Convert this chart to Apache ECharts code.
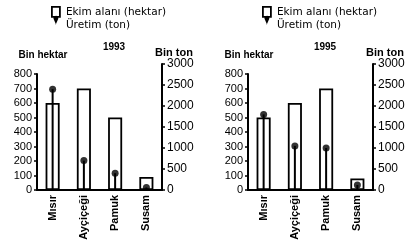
<!DOCTYPE html>
<html><head><meta charset="utf-8">
<script src="https://cdn.jsdelivr.net/npm/echarts@6/dist/echarts.min.js"></script>
<style>html,body{margin:0;padding:0;background:#fff}#c{width:413px;height:244px}</style>
</head><body><div id="c"></div>
<script>
var categories = ['Mısır', 'Ayçiçeği', 'Pamuk', 'Susam'];
var area1993 = [600, 700, 500, 90];
var prod1993 = [2400, 700, 400, 60];
var area1995 = [500, 600, 700, 80];
var prod1995 = [1800, 1050, 1000, 120];
var leftTicks = [0, 100, 200, 300, 400, 500, 600, 700, 800];
var rightTicks = [0, 500, 1000, 1500, 2000, 2500, 3000];
var years = ['1993', '1995'];
var nameArea = 'Ekim alanı (hektar)';
var nameProd = 'Üretim (ton)';

var F = 'Liberation Sans, Arial, sans-serif';
var FD = 'DejaVu Sans, sans-serif';
var chart = echarts.init(document.getElementById('c'), null, {renderer: 'canvas'});
var panels = [{left: 37, area: area1993, prod: prod1993, year: years[0]},
              {left: 248, area: area1995, prod: prod1995, year: years[1]}];
var grids = [], xAxes = [], yAxes = [], series = [], titles = [], legends = [];
panels.forEach(function (p, i) {
  grids.push({left: p.left, width: 125, top: 74, height: 116});
  grids.push({left: p.left, width: 125, top: 64, height: 126});
  xAxes.push({type: 'category', gridIndex: 2 * i, data: categories,
    axisLine: {lineStyle: {color: '#000', width: 2}}, axisTick: {show: false},
    axisLabel: {rotate: 90, color: '#000', fontFamily: F, fontSize: 11, fontWeight: 'bold', margin: 5}});
  xAxes.push({type: 'category', gridIndex: 2 * i + 1, data: categories, show: false});
  yAxes.push({type: 'value', gridIndex: 2 * i, min: 0, max: 800, interval: 100, position: 'left',
    name: 'Bin hektar', nameLocation: 'end', nameGap: 14,
    nameTextStyle: {color: '#000', fontFamily: F, fontSize: 10, fontWeight: 'bold', padding: [0, 0, 0, i === 0 ? 12 : 2]},
    splitLine: {show: false},
    axisLine: {show: true, lineStyle: {color: '#000', width: 2}},
    axisTick: {show: true, length: 3, lineStyle: {color: '#000', width: 1.5}},
    axisLabel: {color: '#000', fontFamily: F, fontSize: 11, margin: 5,
      formatter: function (v) { return leftTicks.indexOf(v) >= 0 ? String(v) : ''; }}});
  yAxes.push({type: 'value', gridIndex: 2 * i + 1, min: 0, max: 3000, interval: 500, position: 'right',
    name: 'Bin ton', nameLocation: 'end', nameGap: 5,
    nameTextStyle: {color: '#000', fontFamily: F, fontSize: 11, fontWeight: 'bold', padding: [0, 0, 0, 24]},
    splitLine: {show: false},
    axisLine: {show: true, lineStyle: {color: '#000', width: 2}},
    axisTick: {show: true, length: 3, lineStyle: {color: '#000', width: 1.5}},
    axisLabel: {color: '#000', fontFamily: F, fontSize: 12, margin: 5,
      formatter: function (v) { return rightTicks.indexOf(v) >= 0 ? String(v) : ''; }}});
  series.push({type: 'bar', name: nameArea, xAxisIndex: 2 * i, yAxisIndex: 2 * i, data: p.area,
    barWidth: '45%', itemStyle: {color: '#fff', borderColor: '#000', borderWidth: 1.8}, z: 2});
  series.push({type: 'bar', name: nameProd, xAxisIndex: 2 * i + 1, yAxisIndex: 2 * i + 1, data: p.prod,
    barWidth: 2, itemStyle: {color: '#000'}, z: 3});
  series.push({type: 'scatter', name: nameProd, xAxisIndex: 2 * i + 1, yAxisIndex: 2 * i + 1, data: p.prod,
    symbol: 'circle', symbolSize: 7, itemStyle: {color: '#000'}, z: 4});
  titles.push({text: p.year, left: p.left + 72, top: 37, textAlign: 'center',
    textStyle: {color: '#000', fontFamily: F, fontSize: 10, fontWeight: 'bold'}});
  legends.push({orient: 'vertical', left: p.left + 14, top: 6, itemGap: -2, itemWidth: 8, itemHeight: 10,
    padding: 0,
    textStyle: {color: '#000', fontFamily: FD, fontSize: 10.5, padding: [0, 0, 0, 1]},
    selectedMode: false,
    data: [{name: nameArea, icon: 'rect', itemStyle: {color: '#fff', borderColor: '#000', borderWidth: 1.8}},
           {name: nameProd, icon: 'pin', itemStyle: {color: '#000'}}]});
});
chart.setOption({
  animation: false, backgroundColor: '#fff',
  title: titles, legend: legends, grid: grids, xAxis: xAxes, yAxis: yAxes, series: series
});
</script></body></html>
